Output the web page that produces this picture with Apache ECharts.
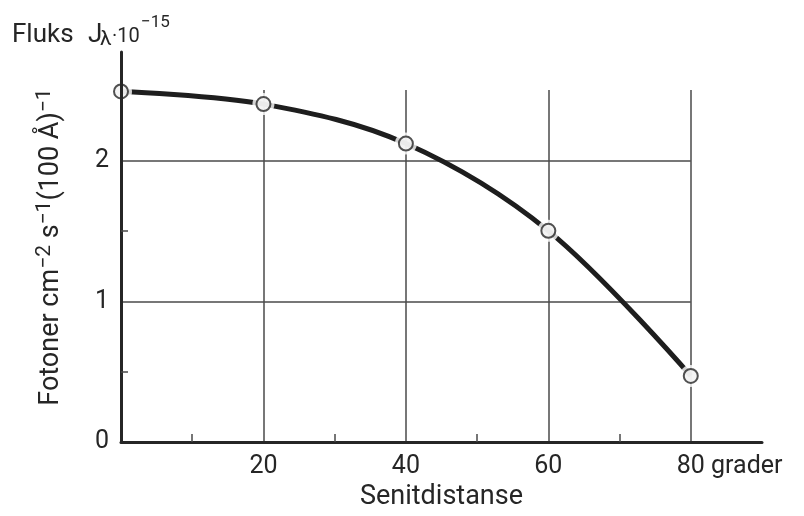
<!DOCTYPE html>
<html>
<head>
<meta charset="utf-8">
<script src="https://cdn.jsdelivr.net/npm/echarts@6/dist/echarts.min.js"></script>
<style>
  html, body { margin: 0; padding: 0; background: #ffffff; }
  #chart { width: 804px; height: 516px; }
</style>
</head>
<body>
<div id="chart"></div>
<script>
// Zenith distance (degrees) and photon flux (units of 10^-15)
const zenithDeg = [0, 20, 40, 60, 80];
const flux = [2.49, 2.40, 2.12, 1.50, 0.47];

// Axis ranges and tick positions
const xMin = 0, xMax = 90;
const yMin = 0, yMax = 2.77;
const xLabelValues = [20, 40, 60, 80];
const xMinorTicks = [10, 30, 50, 70];
const yLabelValues = [0, 1, 2];
const yMinorTicks = [0.5, 1.5];

// Grid lines: vertical ones rise to 2.5, horizontal ones stop at 80
const vGridX = [20, 40, 60, 80];
const vGridTop = 2.5;
const hGridY = [1, 2];
const hGridRight = 80;

const ink = '#262626';
const gridInk = '#4a4a4a';
const font = 'Roboto, "Liberation Sans", sans-serif';

const points = zenithDeg.map((x, i) => [x, flux[i]]);

const gridLines = [];
vGridX.forEach(x => gridLines.push([{ coord: [x, 0] }, { coord: [x, vGridTop] }]));
hGridY.forEach(y => gridLines.push([{ coord: [0, y] }, { coord: [hGridRight, y] }]));

const chart = echarts.init(document.getElementById('chart'), null, { renderer: 'canvas' });

chart.setOption({
  backgroundColor: '#ffffff',
  animation: false,
  grid: { left: 121, right: 42, top: 52, bottom: 68, containLabel: false },
  xAxis: {
    type: 'value',
    min: xMin, max: xMax,
    z: 5,
    axisLine: { show: true, lineStyle: { color: ink, width: 3 } },
    axisTick: { show: true, inside: true, length: 8, customValues: xMinorTicks,
                lineStyle: { color: gridInk, width: 1.5 } },
    axisLabel: {
      customValues: xLabelValues,
      margin: 12,
      color: ink, fontFamily: font, fontSize: 25,
      formatter: v => v === 80 ? '{pad|grader }80 grader' : String(v),
      rich: { pad: { color: 'transparent', fontFamily: font, fontSize: 25 } }
    },
    splitLine: { show: false },
    name: 'Senitdistanse',
    nameLocation: 'middle',
    nameGap: 40,
    nameTextStyle: { color: ink, fontFamily: font, fontSize: 27 }
  },
  yAxis: {
    type: 'value',
    min: yMin, max: yMax,
    z: 5,
    axisLine: { show: true, lineStyle: { color: ink, width: 3 } },
    axisTick: { show: true, inside: true, length: 7, customValues: yMinorTicks,
                lineStyle: { color: gridInk, width: 1.5 } },
    axisLabel: {
      customValues: yLabelValues,
      margin: 12,
      color: ink, fontFamily: font, fontSize: 25,
      formatter: v => String(v)
    },
    splitLine: { show: false },
    name: '{b|Fotoner cm}{s|−2}{b| s}{s|−1}{b|(100 Å)}{s|−1}',
    nameLocation: 'middle',
    nameRotate: 90,
    nameGap: 53,
    nameTextStyle: {
      color: ink,
      rich: {
        b: { fontFamily: font, fontSize: 27, color: ink, lineHeight: 34, verticalAlign: 'middle' },
        s: { fontFamily: font, fontSize: 21, color: ink, lineHeight: 34, verticalAlign: 'top' }
      }
    }
  },
  graphic: [
    { type: 'text', left: 12, top: 22, style: { text: 'Fluks', fill: ink, font: '26px ' + font } },
    { type: 'text', left: 88, top: 22, style: { text: 'J', fill: ink, font: '26px ' + font } },
    { type: 'text', left: 100, top: 29, style: { text: 'λ', fill: ink, font: '21px ' + font } },
    { type: 'text', left: 112, top: 27, style: { text: '·10', fill: ink, font: '20px ' + font } },
    { type: 'text', left: 141, top: 14, style: { text: '−15', fill: ink, font: '17px ' + font } }
  ],
  series: [
    {
      type: 'line',
      data: points,
      smooth: 0.35,
      symbol: 'none',
      z: 2,
      lineStyle: { color: '#1e1e1e', width: 5 },
      markLine: {
        silent: true,
        symbol: 'none',
        label: { show: false },
        lineStyle: { color: gridInk, width: 1.5, type: 'solid' },
        data: gridLines,
        z: 1
      }
    },
    {
      // white halo that opens a small gap in the curve around each marker
      type: 'scatter',
      data: points,
      symbol: 'circle',
      symbolSize: 22,
      z: 3,
      silent: true,
      itemStyle: { color: '#ffffff', borderWidth: 0 }
    },
    {
      type: 'scatter',
      data: points,
      symbol: 'circle',
      symbolSize: 14,
      z: 4,
      itemStyle: { color: '#f0f0f0', borderColor: ink, borderWidth: 2 }
    }
  ]
});
</script>
</body>
</html>
